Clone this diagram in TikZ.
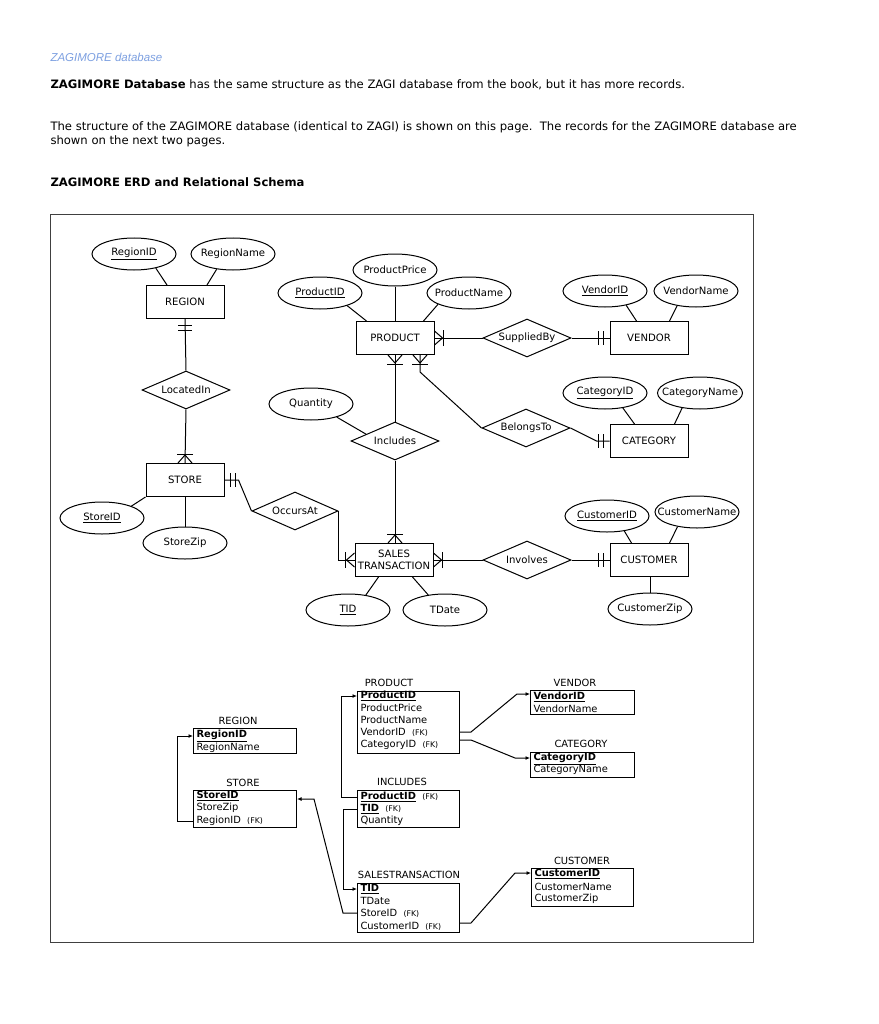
\documentclass[tikz,border=0pt]{standalone}
\usepackage{fontspec}
\setmainfont{DejaVu Sans}
\newfontfamily\titlefont{Liberation Sans}
\usetikzlibrary{shapes.geometric,arrows.meta,calc}
\definecolor{titleblue}{RGB}{125,160,225}
\newcommand{\erdf}{\fontsize{10.1}{12}\selectfont}
\newcommand{\rowf}{\fontsize{9.9}{12}\selectfont}
\newcommand{\fkf}{\fontsize{7.8}{9}\selectfont}
\newcommand{\zw}[1]{\makebox[0pt]{#1}}
\newcommand{\cfoot}[2]{\begin{scope}[shift={(#1)},rotate=#2]\draw (-7,0) -- (0,8) -- (7,0); \draw (-8,9) -- (8,9);\end{scope}}
\newcommand{\dbar}[2]{\begin{scope}[shift={(#1)},rotate=#2]\draw (-7,6) -- (7,6); \draw (-7,11) -- (7,11);\end{scope}}
\begin{document}
\begin{tikzpicture}[x=1pt,y=-1pt,line width=1pt,
  ent/.style={draw, minimum width=78pt, minimum height=33pt, inner sep=0pt, font=\erdf, align=center},
  att/.style={draw, ellipse, minimum width=84pt, minimum height=32pt, inner sep=0pt, font=\erdf},
  rel/.style={draw, diamond, aspect=2.3, minimum width=88pt, minimum height=38pt, inner sep=0pt, font=\erdf},
  tbox/.style={draw, anchor=north west, inner sep=0pt},
  ttitle/.style={font=\rowf, inner sep=0pt},
  trow/.style={font=\rowf, anchor=west, inner sep=0pt},
  tarrow/.style={-{Latex[length=4.5pt,width=4pt]}},
  body/.style={font=\fontsize{11.6}{14}\selectfont, anchor=west, inner sep=0pt}]
\useasboundingbox (0,0) rectangle (878,1024);
\fill[white] (0,0) rectangle (878,1024);

% header
\node[anchor=west, inner sep=0pt, text=titleblue, font=\titlefont\itshape\fontsize{11.5}{13}\selectfont] (hdr) at (50,57) {ZAGIMORE database};
\node[body] (p1) at (50,85) {\textbf{ZAGIMORE Database} has the same structure as the ZAGI database from the book, but it has more records.};
\node[body] (p2) at (50,127) {The structure of the ZAGIMORE database (identical to ZAGI) is shown on this page.\ \ The records for the ZAGIMORE database are};
\node[body] (p3) at (50,141) {shown on the next two pages.};
\node[body] (p4) at (50,182) {\textbf{ZAGIMORE ERD and Relational Schema}};

% frame
\draw[black!75, line width=1pt] (50,215) rectangle (753,942);

% ERD nodes
\node[att] (regionid) at (134,254) {\zw{\underline{RegionID}}};
\node[att] (regionname) at (233,254) {\zw{RegionName}};
\node[ent] (region) at (185,302) {REGION};
\node[rel] (locatedin) at (186,390) {\zw{LocatedIn}};
\node[ent] (store) at (185,480) {STORE};
\node[att] (storeid) at (102,518) {\zw{\underline{StoreID}}};
\node[att] (storezip) at (185,543) {\zw{StoreZip}};
\node[rel, minimum width=86pt] (occursat) at (295,511) {\zw{OccursAt}};

\node[att] (productid) at (320,293) {\zw{\underline{ProductID}}};
\node[att] (productprice) at (395,270) {\zw{ProductPrice}};
\node[att] (productname) at (469,293) {\zw{ProductName}};
\node[ent] (product) at (395,338) {PRODUCT};
\node[att] (quantity) at (311,404) {\zw{Quantity}};
\node[rel] (includes) at (395,441) {\zw{Includes}};
\node[rel] (suppliedby) at (527,338) {\zw{SuppliedBy}};
\node[att] (vendorid) at (605,291) {\zw{\underline{VendorID}}};
\node[att] (vendorname) at (696,291) {\zw{VendorName}};
\node[ent] (vendor) at (649,338) {VENDOR};
\node[rel] (belongsto) at (526,428) {\zw{BelongsTo}};
\node[att] (categoryid) at (605,393) {\zw{\underline{CategoryID}}};
\node[att, minimum width=85pt] (categoryname) at (700,393) {\zw{CategoryName}};
\node[ent] (category) at (649,441) {CATEGORY};

\node[ent, font=\fontsize{10.1}{11.5}\selectfont] (sales) at (394,560) {SALES\\TRANSACTION};
\node[att] (tid) at (348,610) {\zw{\underline{TID}}};
\node[att] (tdate) at (445,610) {\zw{TDate}};
\node[rel] (involves) at (527,560) {\zw{Involves}};
\node[att] (customerid) at (607,516) {\zw{\underline{CustomerID}}};
\node[att] (customername) at (697,512) {\zw{CustomerName}};
\node[ent] (customer) at (649,560) {CUSTOMER};
\node[att] (customerzip) at (650,609) {\zw{CustomerZip}};

% attribute lines
\draw (regionid.-33) -- ($(region.north west)+(21.5,0)$);
\draw (regionname.-137) -- ($(region.north west)+(61.5,0)$);
\draw (productid.-25) -- ($(product.north west)+(11,0)$);
\draw (productprice.south) -- (productprice.south |- product.north);
\draw (productname.-160) -- ($(product.north west)+(68,0)$);
\draw (vendorid.-34) -- ($(vendor.north west)+(27,0)$);
\draw (vendorname.-142) -- ($(vendor.north west)+(60,0)$);
\draw (categoryid.-40) -- ($(category.north west)+(25,0)$);
\draw (categoryname.-140) -- ($(category.north west)+(65,0)$);
\draw (customerid.-41) -- ($(customer.north west)+(22,0)$);
\draw (customername.-143) -- ($(customer.north west)+(60,0)$);
\draw (customerzip.north) -- (customerzip.north |- customer.south);
\draw (storeid.22) -- (store.south west);
\draw (storezip.north) -- (storezip.north |- store.south);
\draw (tid.40) -- ($(sales.south west)+(24,0)$);
\draw (tdate.138) -- ($(sales.south west)+(58,0)$);
\draw (quantity.-27) -- ($(includes.west)!0.35!(includes.north)$);

% relationship lines
\draw (region.south) -- (locatedin.north);
\dbar{region.south}{0}
\draw (locatedin.south) -- (store.north);
\cfoot{store.north}{180}
\draw (store.east) -- ++(14,0) -- (occursat.west);
\dbar{store.east}{90}
\draw (occursat.east) |- (sales.west);
\cfoot{sales.west}{-90}
\draw (product.south) -- (includes.north);
\cfoot{product.south}{0}
\draw (includes.south) -- (includes.south |- sales.north);
\cfoot{includes.south |- sales.north}{180}
\draw (product.east) -- (suppliedby.west);
\cfoot{product.east}{90}
\draw (suppliedby.east) -- (vendor.west);
\dbar{vendor.west}{-90}
\coordinate (pb) at ($(product.south)+(25,0)$);
\draw (pb) -- ++(0,17) -- (belongsto.west);
\cfoot{pb}{0}
\draw (belongsto.east) -- ($(category.west)+(-13,0)$) -- (category.west);
\dbar{category.west}{-90}
\draw (sales.east) -- (involves.west);
\cfoot{sales.east}{90}
\draw (involves.east) -- (customer.west);
\dbar{customer.west}{-90}

% relational schema
\node[ttitle] (tRegion) at (238,721) {REGION};
\node[tbox, minimum width=103pt, minimum height=25pt] (rRegion) at (193,728) {};
\node[trow] (regionR1) at (196,736) {\textbf{\underline{RegionID}}};
\node[trow] (regionR2) at (196,748) {RegionName};

\node[ttitle] (tStore) at (243,783) {STORE};
\node[tbox, minimum width=103pt, minimum height=37pt] (rStore) at (193,790) {};
\node[trow] (storeR1) at (196,796) {\textbf{\underline{StoreID}}};
\node[trow] (storeR2) at (196,808) {StoreZip};
\node[trow] (storeR3) at (196,821) {RegionID\ \ {\fkf(FK)}};

\node[ttitle] (tProduct) at (389,683) {PRODUCT};
\node[tbox, minimum width=102pt, minimum height=62pt] (rProduct) at (357,691) {};
\node[trow] (productR1) at (360,696) {\textbf{\underline{ProductID}}};
\node[trow] (productR2) at (360,708) {ProductPrice};
\node[trow] (productR3) at (360,720) {ProductName};
\node[trow] (productR4) at (360,732) {VendorID\ \ {\fkf(FK)}};
\node[trow] (productR5) at (360,745) {CategoryID\ \ {\fkf(FK)}};

\node[ttitle] (tIncludes) at (402,782) {INCLUDES};
\node[tbox, minimum width=102pt, minimum height=37pt] (rIncludes) at (357,790) {};
\node[trow] (includesR1) at (360,797) {\textbf{\underline{ProductID}}\ \ {\fkf(FK)}};
\node[trow] (includesR2) at (360,809) {\textbf{\underline{TID}}\ \ {\fkf(FK)}};
\node[trow] (includesR3) at (360,821) {Quantity};

\node[ttitle] (tSales) at (409,875) {SALESTRANSACTION};
\node[tbox, minimum width=102pt, minimum height=49pt] (rSales) at (357,883) {};
\node[trow] (salesR1) at (360,889) {\textbf{\underline{TID}}};
\node[trow] (salesR2) at (360,901) {TDate};
\node[trow] (salesR3) at (360,913) {StoreID\ \ {\fkf(FK)}};
\node[trow] (salesR4) at (360,926) {CustomerID\ \ {\fkf(FK)}};

\node[ttitle] (tVendor) at (575,683) {VENDOR};
\node[tbox, minimum width=104pt, minimum height=24pt] (rVendor) at (530,690) {};
\node[trow] (vendorR1) at (533,697) {\textbf{\underline{VendorID}}};
\node[trow] (vendorR2) at (533,709) {VendorName};

\node[ttitle] (tCategory) at (581,744) {CATEGORY};
\node[tbox, minimum width=104pt, minimum height=25pt] (rCategory) at (530,752) {};
\node[trow] (categoryR1) at (533,759) {\textbf{\underline{CategoryID}}};
\node[trow] (categoryR2) at (533,770) {CategoryName};

\node[ttitle] (tCustomer) at (582,861) {CUSTOMER};
\node[tbox, minimum width=102pt, minimum height=38pt] (rCustomer) at (531,868) {};
\node[trow] (customerR1) at (534,874) {\textbf{\underline{CustomerID}}};
\node[trow] (customerR2) at (534,887) {CustomerName};
\node[trow] (customerR3) at (534,899) {CustomerZip};

% schema connectors
\draw[tarrow] (rStore.west |- storeR3) -- ++(-16,0) |- (rRegion.west |- regionR1);
\draw[tarrow] (rIncludes.west |- includesR1) -- ++(-16,0) |- (rProduct.west |- productR1);
\draw[tarrow] (rIncludes.west |- includesR2) -- ++(-14,0) |- (rSales.west |- salesR1);
\draw[tarrow] (rSales.west |- salesR3) -- ++(-14,0) -- ($(rStore.east |- storeR1)+(17,3)$) -- ($(rStore.east |- storeR1)+(0,3)$);
\draw[tarrow] (rProduct.east |- productR4) -- ++(11,0) -- ($(rVendor.west |- vendorR1)+(-13,-3)$) -- ($(rVendor.west |- vendorR1)+(0,-3)$);
\draw[tarrow] ($(rProduct.east |- productR4)+(0,8)$) -- ++(11,0) -- ($(rCategory.west |- categoryR1)+(-15,-1)$) -- ($(rCategory.west |- categoryR1)+(0,-1)$);
\draw[tarrow] ($(rSales.east |- salesR4)+(0,-3)$) -- ++(11,0) -- ($(rCustomer.west |- customerR1)+(-16,-1)$) -- ($(rCustomer.west |- customerR1)+(0,-1)$);
\end{tikzpicture}
\end{document}
